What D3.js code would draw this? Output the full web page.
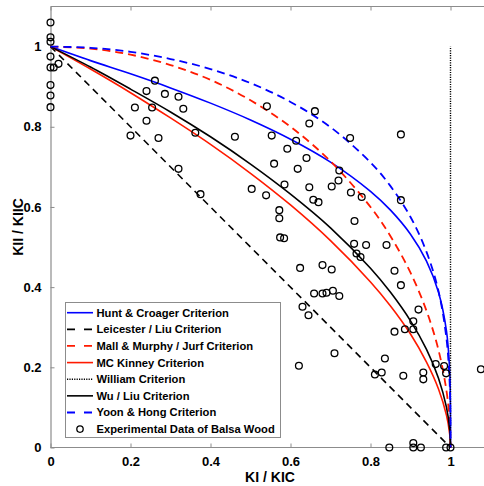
<!DOCTYPE html>
<html><head><meta charset="utf-8">
<script src="https://cdn.jsdelivr.net/npm/d3@7/dist/d3.min.js"></script>
<style>
html,body{margin:0;padding:0;background:#fff;}
svg text{font-family:"Liberation Sans",Arial,Helvetica,sans-serif;font-weight:bold;}
</style></head>
<body>
<svg id="chart" width="484" height="486"></svg>
<script>
// ---------------- data ----------------
const xTicks = [0, 0.2, 0.4, 0.6, 0.8, 1];
const yTicks = [0, 0.2, 0.4, 0.6, 0.8, 1];
const xTickLabels = ["0", "0.2", "0.4", "0.6", "0.8", "1"];
const yTickLabels = ["0", "0.2", "0.4", "0.6", "0.8", "1"];
const xLabel = "KI / KIC";
const yLabel = "KII / KIIC";

const huntCroager = [[0,1],[0.1,0.965],[0.2,0.932],[0.3,0.897],[0.4,0.859],[0.5,0.817],[0.6,0.769],[0.7,0.712],[0.8,0.639],[0.85,0.592],[0.9,0.532],[0.94,0.465],[0.97,0.387],[0.99,0.290],[0.998,0.190],[0.9998,0.104],[1,0]];
const leicesterLiu = [[0,1],[1,0]];
const mallMurphyJurf = [[0,1],[0.1,0.995],[0.2,0.980],[0.3,0.954],[0.4,0.917],[0.5,0.866],[0.6,0.800],[0.7,0.714],[0.8,0.600],[0.85,0.527],[0.9,0.436],[0.94,0.341],[0.97,0.243],[0.99,0.141],[0.998,0.063],[1,0]];
const mcKinney = [[0,1],[0.1,0.944],[0.2,0.885],[0.3,0.822],[0.4,0.756],[0.5,0.684],[0.6,0.605],[0.7,0.516],[0.8,0.413],[0.85,0.353],[0.9,0.283],[0.94,0.213],[0.97,0.146],[0.99,0.080],[0.998,0.033],[1,0]];
const william = [[1,0],[1,1]];
const wuLiu = [[0,1],[0.1,0.949],[0.2,0.894],[0.3,0.837],[0.4,0.775],[0.5,0.707],[0.6,0.632],[0.7,0.548],[0.8,0.447],[0.85,0.387],[0.9,0.316],[0.94,0.245],[0.97,0.173],[0.99,0.100],[0.998,0.045],[1,0]];
const yoonHong = [[0,1],[0.1,0.997],[0.2,0.987],[0.3,0.969],[0.4,0.944],[0.5,0.909],[0.6,0.862],[0.7,0.799],[0.8,0.711],[0.85,0.652],[0.9,0.575],[0.94,0.488],[0.97,0.390],[0.99,0.271],[0.998,0.159],[0.9998,0.074],[1,0]];

const expKI = [0,0,0,0,0,0.008,0.020,0,0,0,
  0.261,0.240,0.211,0.254,0.240,0.200,0.270,0.286,0.320,0.332,
  0.362,0.461,0.320,0.375,0.503,0.539,0.541,0.661,0.647,0.749,
  0.553,0.614,0.592,0.640,0.559,0.618,0.722,0.720,0.703,0.647,
  0.585,0.751,0.778,0.657,0.670,0.572,0.572,0.760,0.876,0.876,
  0.574,0.584,0.759,0.789,0.840,0.765,0.775,0.624,0.680,0.703,
  0.659,0.680,0.690,0.706,0.722,0.630,0.645,0.710,0.621,0.811,
  0.828,0.860,0.876,0.920,0.907,0.886,0.907,0.860,0.836,0.882,
  0.932,0.932,0.963,0.984,0.989,1.076,0.847,0.907,0.907,0.926,
  0.989,1.000];
const expKII = [1.060,1.023,1.012,0.975,0.948,0.948,0.957,0.904,0.878,0.849,
  0.915,0.889,0.848,0.848,0.815,0.778,0.772,0.882,0.875,0.845,
  0.785,0.775,0.695,0.632,0.645,0.629,0.851,0.839,0.808,0.772,
  0.778,0.765,0.745,0.722,0.708,0.695,0.691,0.666,0.651,0.649,
  0.656,0.636,0.625,0.618,0.612,0.592,0.572,0.565,0.781,0.617,
  0.524,0.522,0.508,0.505,0.505,0.484,0.475,0.448,0.455,0.444,
  0.384,0.384,0.386,0.391,0.378,0.351,0.330,0.235,0.204,0.182,
  0.187,0.441,0.405,0.344,0.315,0.295,0.295,0.289,0.222,0.179,
  0.187,0.170,0.208,0.203,0.185,0.195,0,0.011,0,0,
  0,0];

const legendLabels = ["Hunt & Croager Criterion","Leicester / Liu Criterion","Mall & Murphy / Jurf Criterion","MC Kinney Criterion","William Criterion","Wu / Liu Criterion","Yoon & Hong Criterion","Experimental Data of Balsa Wood"];

// ---------------- drawing ----------------
const svg = d3.select("#chart");
const x = d3.scaleLinear().domain([0, 1.1]).range([50.5, 490.5]);
const y = d3.scaleLinear().domain([0, 1.1]).range([447.5, 6.5]);

const BLUE = "#0000ff", RED = "#ff1a00", BLACK = "#000";
const axisGray = "#8c8c8c";

// axes
const gx = svg.append("g").attr("transform", "translate(0,447.5)")
  .call(d3.axisBottom(x).tickValues(xTicks).tickSizeInner(-4).tickSizeOuter(0).tickPadding(9)
    .tickFormat((d,i) => xTickLabels[i]));
const gxt = svg.append("g").attr("transform", "translate(0,6.5)")
  .call(d3.axisTop(x).tickValues(xTicks).tickSizeInner(-4).tickSizeOuter(0).tickFormat(""));
const gy = svg.append("g").attr("transform", "translate(50.5,0)")
  .call(d3.axisLeft(y).tickValues(yTicks).tickSizeInner(-4).tickSizeOuter(0).tickPadding(9)
    .tickFormat((d,i) => yTickLabels[i]));
[gx, gxt, gy].forEach(g => {
  g.select(".domain").attr("stroke", axisGray).attr("stroke-width", 1.2);
  g.selectAll(".tick line").attr("stroke", axisGray);
  g.selectAll(".tick text").attr("fill", "#000").attr("font-size", 13)
    .attr("font-family", "'Liberation Sans',Arial,sans-serif").attr("font-weight", "bold");
});
gx.select(".domain").attr("d", `M${x(0)},0H484`);
gxt.select(".domain").attr("d", `M${x(0)},0H484`);

svg.append("text").attr("x", 270).attr("y", 482).attr("text-anchor", "middle")
  .attr("font-size", 14).text(xLabel);
svg.append("text").attr("transform", "translate(23,227) rotate(-90)").attr("text-anchor", "middle")
  .attr("font-size", 14).text(yLabel);

// curves
const line = d3.line().x(d => x(d[0])).y(d => y(d[1])).curve(d3.curveCatmullRom.alpha(0.5));
const series = [
  {data: huntCroager, color: BLUE, dash: null, w: 1.6},
  {data: leicesterLiu, color: BLACK, dash: "7,5", w: 1.6},
  {data: mallMurphyJurf, color: RED, dash: "8,5", w: 1.8},
  {data: mcKinney, color: RED, dash: null, w: 1.6},
  {data: william, color: BLACK, dash: "1.2,1.2", w: 1.4},
  {data: wuLiu, color: BLACK, dash: null, w: 1.6},
  {data: yoonHong, color: BLUE, dash: "8,5", w: 1.8}
];
series.forEach(s => {
  svg.append("path").attr("d", line(s.data)).attr("fill", "none")
    .attr("stroke", s.color).attr("stroke-width", s.w)
    .attr("stroke-dasharray", s.dash);
});

// experimental points
svg.append("g").selectAll("circle").data(expKI).join("circle")
  .attr("cx", d => x(d)).attr("cy", (d,i) => y(expKII[i])).attr("r", 3.4)
  .attr("fill", "none").attr("stroke", "#000").attr("stroke-width", 1.3);

// legend
const lg = svg.append("g");
lg.append("rect").attr("x", 65.5).attr("y", 302.5).attr("width", 215).attr("height", 135)
  .attr("fill", "#fff").attr("stroke", axisGray).attr("stroke-width", 1);
legendLabels.forEach((lab, i) => {
  const cy = 312.7 + i * 16.63;
  if (i < 7) {
    const s = series[i];
    lg.append("line").attr("x1", 67).attr("x2", 93).attr("y1", cy).attr("y2", cy)
      .attr("stroke", s.color).attr("stroke-width", s.w)
      .attr("stroke-dasharray", i === 4 ? "1.2,1.2" : (s.dash ? "8,9" : null));
  } else {
    lg.append("circle").attr("cx", 80).attr("cy", cy).attr("r", 3.2)
      .attr("fill", "none").attr("stroke", "#000").attr("stroke-width", 1.3);
  }
  lg.append("text").attr("x", 96.5).attr("y", cy + 4).attr("font-size", 11.2).text(lab);
});
</script>
</body></html>
